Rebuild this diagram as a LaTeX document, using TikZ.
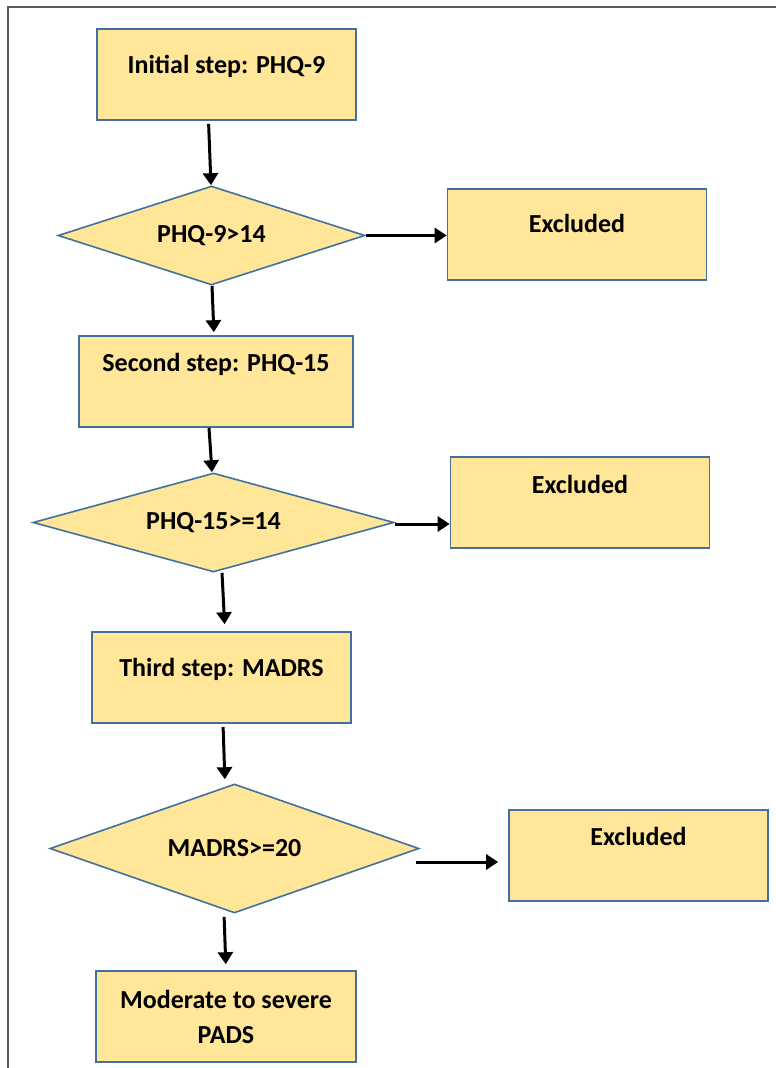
\documentclass[tikz,border=0pt]{standalone}
\usepackage{fontspec}
\setmainfont{Carlito}
\usepackage{tikz}
\usetikzlibrary{shapes.geometric, arrows.meta}

\definecolor{boxfill}{HTML}{FFE699}
\definecolor{boxline}{HTML}{41719C}
\definecolor{framegray}{HTML}{595959}

\tikzset{
  stepbox/.style={draw=boxline, fill=boxfill, line width=1.6pt, rectangle,
    minimum width=259pt, minimum height=91pt, inner sep=0pt, align=center,
    font=\bfseries\fontsize{26}{35}\selectfont},
  test/.style={draw=boxline, fill=boxfill, line width=1.6pt, diamond, aspect=3.5,
    inner sep=1pt, font=\bfseries\fontsize{26}{35}\selectfont},
  raise/.style={text height=18pt, text depth=#1},
  flow/.style={line width=3pt, -{Triangle[length=12pt,width=15pt]}}
}

\begin{document}
\begin{tikzpicture}[x=1pt,y=-1pt]
\useasboundingbox (0,0) rectangle (776,1068);
\draw[framegray, line width=1.5pt] (776,7) -| (8,1068);

\node[stepbox, raise=20pt] (init) at (226.5,74.5) {Initial step: PHQ-9};
\node[test, minimum width=307pt, minimum height=99pt] (d1) at (211.5,235.5) {PHQ-9>14};
\node[stepbox, raise=22pt] (exc1) at (577,234.5) {Excluded};
\node[stepbox, raise=38pt, minimum width=274pt] (second) at (216,381.5) {Second step: PHQ-15};
\node[test, minimum width=361pt, minimum height=99pt] (d2) at (213.5,522.5) {PHQ-15>=14};
\node[stepbox, raise=36pt] (exc2) at (580,502.5) {Excluded};
\node[stepbox, raise=20pt] (third) at (221.5,677.5) {Third step: MADRS};
\node[test, minimum width=369pt, minimum height=129pt] (d3) at (234.5,848.5) {MADRS>=20};
\node[stepbox, raise=38pt] (exc3) at (638.5,855.5) {Excluded};
\node[stepbox, minimum width=260pt] (pads) at (226,1016.5) {Moderate to severe\\PADS};

\draw[flow, shorten <=3pt] ([xshift=-18pt]init.south) -- ([xshift=-0.5pt]d1.north);
\draw[flow] (d1.east) -- (d1.east -| exc1.west);
\draw[flow, shorten >=3pt] ([xshift=0.5pt]d1.south) -- ([xshift=-2pt]second.north);
\draw[flow] ([xshift=-7pt]second.south) -- ([xshift=-1.5pt]d2.north);
\draw[flow] ([yshift=-1.5pt]d2.east) -- ([yshift=-1.5pt]d2.east -| exc2.west);
\draw[flow, shorten >=7pt] ([xshift=8.5pt]d2.south) -- ([xshift=3.5pt]third.north);
\draw[flow, shorten <=3pt, shorten >=4pt] ([xshift=1.5pt]third.south) -- ([xshift=-9.5pt]d3.north);
\draw[flow, shorten >=10pt] ([xshift=-4pt,yshift=-13.5pt]d3.east) -- ([yshift=-6.5pt]exc3.west);
\draw[flow, shorten <=3pt, shorten >=6pt] ([xshift=-10.5pt]d3.south) -- (pads.north);
\end{tikzpicture}
\end{document}
